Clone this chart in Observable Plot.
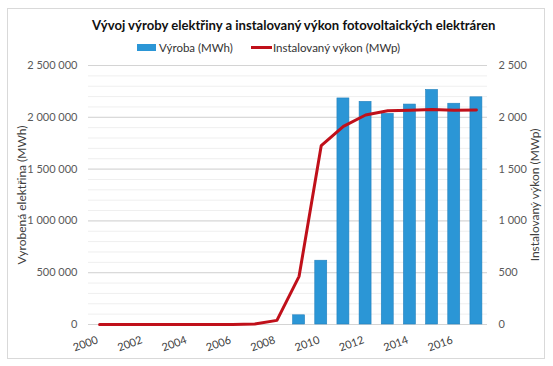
<!DOCTYPE html>
<html>
<head>
<meta charset="utf-8">
<script src="https://cdn.jsdelivr.net/npm/d3@7"></script>
<script src="https://cdn.jsdelivr.net/npm/@observablehq/plot@0.6"></script>
<style>
  html, body { margin: 0; padding: 0; background: #fff; }
  body { width: 553px; height: 366px; position: relative; overflow: hidden; font-family: Lato, "Open Sans", sans-serif; }
  #frame { position: absolute; left: 7px; top: 8px; width: 536px; height: 349px; border: 1px solid #d9d9d9; }
  #title { position: absolute; left: 92px; top: 17px; font-size: 13.1px; font-weight: bold; color: #111; white-space: nowrap; }
  #legend { position: absolute; left: 137px; top: 41px; font-size: 11.5px; color: #333; white-space: nowrap; display: flex; align-items: center; }
  .sw-bar { display: inline-block; width: 19px; height: 7px; background: #2b96d6; margin-right: 3px; }
  .sw-line { display: inline-block; width: 21px; height: 3px; background: #c0101a; margin-left: 18px; margin-right: 1px; }
  #chart { position: absolute; left: 0; top: 55px; }
</style>
</head>
<body>
<div id="frame"></div>
<div id="title">Vývoj výroby elektřiny a instalovaný výkon fotovoltaických elektráren</div>
<div id="legend"><span class="sw-bar"></span><span>Výroba (MWh)</span><span class="sw-line"></span><span>Instalovaný výkon (MWp)</span></div>
<div id="chart"></div>
<script>
// Data
const years = [2000, 2001, 2002, 2003, 2004, 2005, 2006, 2007, 2008, 2009, 2010, 2011, 2012, 2013, 2014, 2015, 2016, 2017];
const production = [null, null, null, null, null, null, null, null, null, 88800, 615700, 2182000, 2149000, 2033000, 2123000, 2264000, 2131000, 2193000]; // MWh
const installed = [0.01, 0.1, 0.1, 0.2, 0.3, 0.5, 0.8, 4, 40, 465, 1727, 1913, 2022, 2064, 2068, 2075, 2068, 2070]; // MWp
const xTickYears = [2000, 2002, 2004, 2006, 2008, 2010, 2012, 2014, 2016];
const leftTicks = [0, 500000, 1000000, 1500000, 2000000, 2500000];
const minorTicks = d3.range(0, 2500001, 100000);
const leftLabel = "Vyrobená elektřina (MWh)";
const rightLabel = "Instalovaný výkon (MWp)";

const bars = years.map((y, i) => ({year: y, value: production[i]})).filter(d => d.value != null);
const line = years.map((y, i) => ({year: y, mwp: installed[i]}));

const loc = d3.formatLocale({thousands: "\u00a0", grouping: [3], decimal: ",", currency: ["", ""]});
const fmt = loc.format(",");
const halfBar = 0.27;

const plot = Plot.plot({
  width: 553,
  height: 300,
  marginLeft: 88,
  marginRight: 66,
  marginTop: 10,
  marginBottom: 31,
  style: {fontFamily: "Lato, 'Open Sans', sans-serif", fontSize: "11px", color: "#595959", background: "transparent"},
  x: {type: "linear", domain: [1999.5, 2017.5], axis: null},
  y: {domain: [0, 2500000], axis: null},
  marks: [
    Plot.ruleY(minorTicks, {stroke: "#efefef", strokeWidth: 1}),
    Plot.ruleY(leftTicks, {stroke: "#d4d4d4", strokeWidth: 1}),
    Plot.rectY(bars, {x1: d => d.year - halfBar, x2: d => d.year + halfBar, y: "value", fill: "#2b96d6", stroke: "#2280bd", strokeWidth: 0.6}),
    Plot.line(line, {x: "year", y: d => d.mwp * 1000, stroke: "#c0101a", strokeWidth: 3}),
    Plot.axisY({anchor: "left", ticks: leftTicks, tickFormat: fmt, tickSize: 0, tickPadding: 11, label: null, fontSize: 11, fill: "#595959"}),
    Plot.axisY({anchor: "right", ticks: leftTicks, tickFormat: d => fmt(d / 1000), tickSize: 0, tickPadding: 11, label: null, fontSize: 11, fill: "#595959"}),
    Plot.axisX({anchor: "bottom", ticks: xTickYears, tickFormat: d => String(d), tickRotate: -20, tickSize: 0, tickPadding: 15, dx: -2, label: null, fontSize: 11, fill: "#404040"}),
    Plot.text([leftLabel], {frameAnchor: "left", dx: -66, rotate: -90, textAnchor: "middle", fontSize: 12, fill: "#404040"}),
    Plot.text([rightLabel], {frameAnchor: "right", dx: 48, rotate: -90, textAnchor: "middle", fontSize: 12, fill: "#404040"})
  ]
});
document.getElementById("chart").appendChild(plot);
</script>
</body>
</html>
